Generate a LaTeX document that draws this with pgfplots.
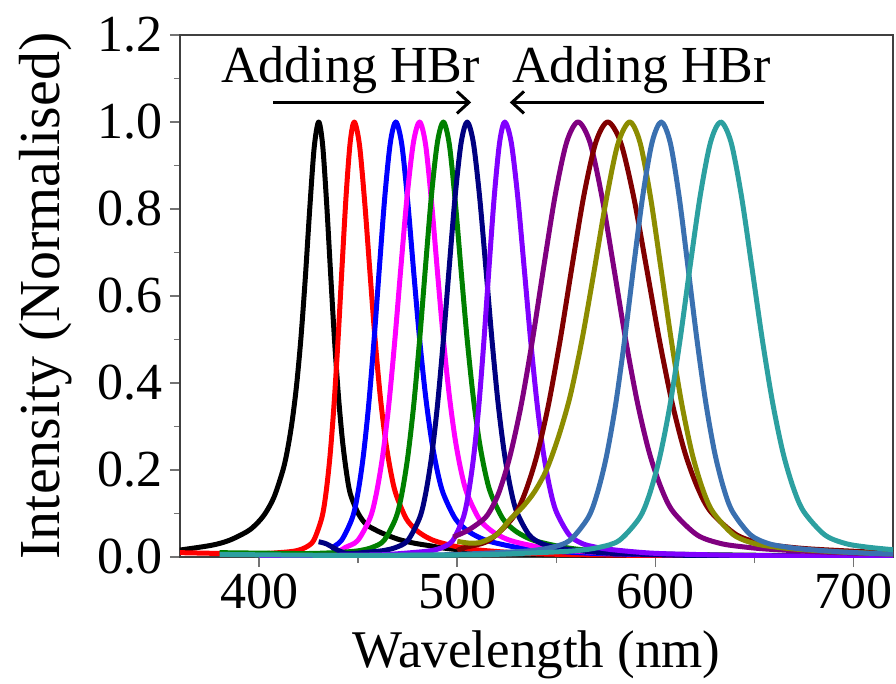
\documentclass[border=0pt]{standalone}
\usepackage{fontspec}
\setmainfont{Liberation Serif}
\usepackage{pgfplots}
\pgfplotsset{compat=1.18}
\usetikzlibrary{arrows.meta}
\definecolor{cviolet}{HTML}{8000FF}
\definecolor{cpurple}{HTML}{800080}
\definecolor{cdarkred}{HTML}{800000}
\definecolor{colive}{HTML}{8C8C00}
\definecolor{csteel}{HTML}{3A70B0}
\definecolor{cteal}{HTML}{2CA0A0}
\definecolor{cgreen}{HTML}{008000}
\definecolor{cnavy}{HTML}{000080}
\definecolor{cmagenta}{HTML}{FF00FF}
\definecolor{cred}{HTML}{FF0000}
\definecolor{cblue}{HTML}{0000FF}

\begin{document}
\begin{tikzpicture}
\begin{axis}[
  name=ax,
  scale only axis,
  width=356.5pt, height=261pt,
  xmin=360, xmax=720, ymin=0, ymax=1.2,
  xtick={400,500,600,700}, minor x tick num=1,
  ytick={0,0.2,0.4,0.6,0.8,1.0,1.2}, minor y tick num=1,
  xtick pos=left, ytick pos=left,
  tick align=outside,
  major tick length=5pt, minor tick length=3pt,
  tick style={black!55, line width=0.8pt},
  axis line style={black!75, line width=0.8pt},
  xticklabel={\rmfamily\pgfmathprintnumber[assume math mode=true]{\tick}},
  yticklabel={\rmfamily\pgfmathprintnumber[fixed,fixed zerofill,precision=1,assume math mode=true]{\tick}},
  tick label style={font=\fontsize{26}{30}\selectfont\rmfamily},
  xlabel={Wavelength (nm)},
  ylabel={Intensity (Normalised)},
  xlabel style={font=\fontsize{26.5}{32}\selectfont, at={(axis description cs:0.5,0)}, anchor=base, yshift=-55pt},
  ylabel style={font=\fontsize{29}{34}\selectfont, at={(axis description cs:-0.189,0.5)}, anchor=center},
  every axis plot/.append style={line width=2.5pt, smooth, no markers, line join=round},
]
% black
\addplot[black] coordinates {(360,0.016) (376,0.027) (385,0.0385) (394,0.0588) (398.5,0.0755) (403,0.100) (407.5,0.138) (412,0.200) (414.25,0.246) (416.5,0.308) (418.75,0.390) (421,0.500) (423.25,0.640) (425.5,0.800) (427.75,0.941) (430,1) (432,0.948) (434,0.816) (436,0.655) (438,0.500) (440,0.370) (442,0.269) (444,0.196) (446,0.145) (450,0.100) (454,0.075) (458,0.064) (462,0.055) (470,0.041) (478,0.032) (486,0.026) (494,0.020) (512,0.012) (540,0.006) (600,0.003)};
% red
\addplot[cred] coordinates {(360,0.010) (382,0.008) (399,0.007) (407,0.009) (415.2,0.012) (419.3,0.015) (423.4,0.022) (427.5,0.038) (431.6,0.090) (433.65,0.145) (435.7,0.230) (437.75,0.349) (439.8,0.500) (441.85,0.670) (443.9,0.833) (445.95,0.954) (448,1) (450.6,0.948) (453.25,0.816) (455.9,0.655) (458.5,0.500) (461.1,0.370) (463.75,0.269) (466.4,0.196) (469,0.145) (474.25,0.088) (479.5,0.061) (484.75,0.045) (490,0.035) (500.5,0.023) (511,0.016) (532,0.009) (553,0.006) (605.5,0.003) (640,0.002)};
% blue
\addplot[cblue] coordinates {(436,0.020) (441.5,0.038) (447,0.090) (449.75,0.145) (452.5,0.230) (455.25,0.349) (458,0.500) (460.75,0.670) (463.5,0.833) (466.25,0.954) (469,1) (472,0.948) (475,0.816) (478,0.655) (481,0.500) (484,0.370) (487,0.269) (490,0.196) (493,0.145) (499,0.088) (505,0.061) (511,0.045) (517,0.035) (529,0.023) (541,0.016) (565,0.009) (589,0.006) (649,0.003)};
% magenta
\addplot[cmagenta] coordinates {(440,0.012) (443.5,0.022) (449.75,0.038) (456,0.090) (459.1,0.145) (462.25,0.230) (465.4,0.349) (468.5,0.500) (471.6,0.670) (474.75,0.833) (477.9,0.954) (481,1) (484,0.948) (487,0.816) (490,0.655) (493,0.500) (496,0.370) (499,0.269) (502,0.196) (505,0.145) (511,0.088) (517,0.061) (523,0.045) (529,0.035) (541,0.023) (553,0.016) (577,0.009) (601,0.006) (661,0.003)};
% green
\addplot[cgreen] coordinates {(380,0.010) (420,0.008) (433,0.009) (445,0.012) (451,0.015) (457,0.022) (463,0.038) (469,0.090) (472,0.145) (475,0.230) (478,0.349) (481,0.500) (484,0.670) (487,0.833) (490,0.954) (493,1) (496,0.948) (499,0.816) (502,0.655) (505,0.500) (508,0.370) (511,0.269) (514,0.196) (517,0.145) (523,0.088) (529,0.061) (535,0.045) (541,0.035) (553,0.023) (565,0.016) (589,0.009) (613,0.006) (673,0.003)};
% navy
\addplot[cnavy] coordinates {(430,0.035) (434,0.030) (440,0.015) (445,0.008) (457,0.012) (463,0.015) (469,0.022) (475,0.038) (481,0.090) (484,0.145) (487,0.230) (490,0.349) (493,0.500) (496,0.670) (499,0.833) (502,0.954) (505,1) (508.1,0.953) (511.25,0.829) (514.4,0.666) (517.5,0.500) (520.6,0.354) (523.75,0.239) (526.9,0.158) (530,0.104) (536.25,0.051) (542.5,0.031) (548.75,0.023) (555,0.018) (567.5,0.012) (580,0.008) (605,0.005) (630,0.003) (700,0.002)};
% violet
\addplot[cviolet] coordinates {(400,0.003) (419,0.003) (440,0.004) (461,0.005) (471.5,0.008) (482,0.012) (487.25,0.015) (492.5,0.022) (497.75,0.038) (503,0.090) (505.6,0.145) (508.25,0.230) (510.9,0.349) (513.5,0.500) (516.1,0.670) (518.75,0.833) (521.4,0.954) (524,1) (527.25,0.953) (530.5,0.829) (533.75,0.666) (537,0.500) (540.25,0.354) (543.5,0.239) (546.75,0.158) (550,0.104) (556.5,0.051) (563,0.031) (569.5,0.023) (576,0.018) (589,0.012) (602,0.008) (628,0.005) (654,0.003) (720,0.002)};
% purple
\addplot[cpurple] coordinates {(498,0.046) (504,0.058) (509,0.072) (515,0.095) (520.75,0.145) (526.5,0.230) (532.25,0.349) (538,0.500) (543.75,0.670) (549.5,0.833) (555.25,0.954) (561,1) (567,0.953) (573,0.829) (579,0.666) (585,0.500) (591,0.354) (597,0.239) (603,0.158) (609,0.104) (621,0.051) (633,0.031) (645,0.023) (657,0.018) (681,0.012) (705,0.008) (720,0.007)};
% dark red
\addplot[cdarkred] coordinates {(500,0.015) (504,0.022) (516,0.038) (528,0.090) (534,0.145) (540,0.230) (546,0.349) (552,0.500) (558,0.670) (564,0.833) (570,0.954) (576,1) (582.5,0.953) (589,0.829) (595.5,0.666) (602,0.500) (608.5,0.354) (615,0.239) (621.5,0.158) (628,0.104) (641,0.051) (654,0.031) (667,0.023) (680,0.018) (706,0.012) (720,0.010)};
% olive
\addplot[colive] coordinates {(500,0.036) (506,0.032) (512,0.034) (520,0.052) (527,0.088) (533,0.115) (539,0.150) (545,0.200) (551,0.275) (557,0.370) (563,0.500) (569,0.655) (575,0.816) (581,0.948) (587,1) (592.25,0.953) (597.5,0.829) (602.75,0.666) (608,0.500) (613.25,0.354) (618.5,0.239) (623.75,0.158) (629,0.104) (639.5,0.051) (650,0.031) (660.5,0.023) (671,0.018) (692,0.012) (713,0.008) (720,0.007)};
% steel blue
\addplot[csteel] coordinates {(440,0.002) (455,0.003) (492,0.005) (510.5,0.008) (529,0.012) (538.25,0.015) (547.5,0.022) (556.75,0.038) (566,0.090) (570.6,0.145) (575.25,0.230) (579.9,0.349) (584.5,0.500) (589.1,0.670) (593.75,0.833) (598.4,0.954) (603,1) (607.5,0.953) (612,0.829) (616.5,0.666) (621,0.500) (625.5,0.354) (630,0.239) (634.5,0.158) (639,0.104) (648,0.051) (657,0.031) (666,0.023) (675,0.018) (693,0.012) (711,0.008) (720,0.007)};
% teal
\addplot[cteal] coordinates {(380,0.006) (428,0.004) (469,0.004) (510,0.005) (530.5,0.008) (551,0.012) (561.25,0.015) (571.5,0.022) (581.75,0.038) (592,0.090) (597.1,0.145) (602.25,0.230) (607.4,0.349) (612.5,0.500) (617.6,0.670) (622.75,0.833) (627.9,0.954) (633,1) (638.25,0.953) (643.5,0.829) (648.75,0.666) (654,0.500) (659.25,0.354) (664.5,0.239) (669.75,0.158) (675,0.104) (685.5,0.051) (696,0.031) (706.5,0.023) (717,0.018) (720,0.017)};

% annotations
\draw[black, line width=1.5pt, -{Straight Barb[length=6pt,width=11pt,line width=1.5pt]}] (axis cs:407,1.045) -- (axis cs:507,1.045);
\draw[black, line width=1.5pt, -{Straight Barb[length=6pt,width=11pt,line width=1.5pt]}] (axis cs:655,1.045) -- (axis cs:526.5,1.045);
\node[anchor=base, font=\fontsize{26}{30}\selectfont\rmfamily, inner sep=0pt] at (axis cs:446,1.09) {Adding HBr};
\node[anchor=base, font=\fontsize{26}{30}\selectfont\rmfamily, inner sep=0pt] at (axis cs:593,1.09) {Adding HBr};
\end{axis}
\pgfresetboundingbox
\path[use as bounding box] ([shift={(-90pt,-63pt)}]ax.south west) rectangle ([shift={(1.5pt,17.5pt)}]ax.north east);
\end{tikzpicture}
\end{document}
